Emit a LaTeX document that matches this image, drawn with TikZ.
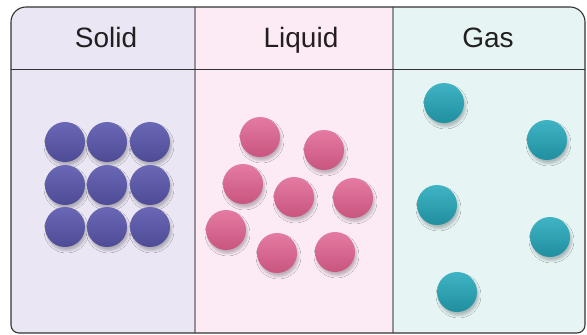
\documentclass[tikz,border=0pt]{standalone}
\usepackage{fontspec}
\setmainfont{Liberation Sans}
\usetikzlibrary{shadows.blur}

% panel and particle colours
\definecolor{solidbg}{HTML}{EAE6F3}
\definecolor{liquidbg}{HTML}{FCEBF5}
\definecolor{gasbg}{HTML}{E6F4F4}
\definecolor{solidhi}{HTML}{6A68B6}
\definecolor{solidlo}{HTML}{4E4B96}
\definecolor{liquidhi}{HTML}{E47BA2}
\definecolor{liquidlo}{HTML}{C8557F}
\definecolor{gashi}{HTML}{3FB4C4}
\definecolor{gaslo}{HTML}{208F9F}
\definecolor{framecol}{HTML}{333333}
\definecolor{dividercol}{HTML}{948F98}
\definecolor{labelcol}{HTML}{231F20}

\tikzset{
  particle/.style={circle, minimum size=40pt, inner sep=0pt,
    shading=axis, shading angle=45,
    blur shadow={shadow xshift=1.5pt, shadow yshift=-3.5pt,
                 shadow blur radius=2.5pt, shadow opacity=25}},
  solidp/.style={particle, top color=solidhi, bottom color=solidlo},
  liquidp/.style={particle, top color=liquidhi, bottom color=liquidlo},
  gasp/.style={particle, top color=gashi, bottom color=gaslo},
  heading/.style={font=\fontsize{28}{30}\selectfont, text=labelcol,
    anchor=base, inner sep=0pt},
  frame/.style={draw=framecol, line width=1.1pt},
}

\begin{document}
\begin{tikzpicture}[x=1pt, y=-1pt]
\useasboundingbox (0,0) rectangle (587,335);

% panel backgrounds, clipped to the outer frame
\begin{scope}
  \clip (11,170) [rounded corners=15pt] |- (298,7) -| (585,170)
        [rounded corners=8pt] |- (298,333) -| (11,170) -- cycle;
  \fill[solidbg]  (0,0) rectangle (195,335);
  \fill[liquidbg] (195,0) rectangle (393,335);
  \fill[gasbg]    (393,0) rectangle (587,335);
\end{scope}

% column dividers and header rule
\draw[dividercol, line width=1.3pt] (195,7) -- (195,333);
\draw[dividercol, line width=1.3pt] (393,7) -- (393,333);
\draw[framecol, line width=0.8pt] (11,69) -- (585,69);

% outer frame
\draw[frame] (11,170) [rounded corners=15pt] |- (298,7) -| (585,170)
      [rounded corners=8pt] |- (298,333) -| (11,170) -- cycle;

% headings
\node[heading] (hsolid)  at (106,47) {Solid};
\node[heading] (hliquid) at (301,47) {Liquid};
\node[heading] (hgas)    at (488,47) {Gas};

% solid: regular 3x3 lattice
\foreach \r/\y in {1/142, 2/185, 3/227} {
  \foreach \c/\x in {1/65, 2/107, 3/150} {
    \node[solidp] (s\r\c) at (\x,\y) {};
  }
}

% liquid: close but disordered
\node[liquidp] (l1) at (260,137) {};
\node[liquidp] (l2) at (324,150) {};
\node[liquidp] (l3) at (243,184) {};
\node[liquidp] (l4) at (294,197) {};
\node[liquidp] (l5) at (353,198) {};
\node[liquidp] (l6) at (226,230) {};
\node[liquidp] (l7) at (277,253) {};
\node[liquidp] (l8) at (335,252) {};

% gas: widely spaced
\node[gasp] (g1) at (444,103) {};
\node[gasp] (g2) at (547,140) {};
\node[gasp] (g3) at (437,205) {};
\node[gasp] (g4) at (550,237) {};
\node[gasp] (g5) at (457,292) {};
\end{tikzpicture}
\end{document}
